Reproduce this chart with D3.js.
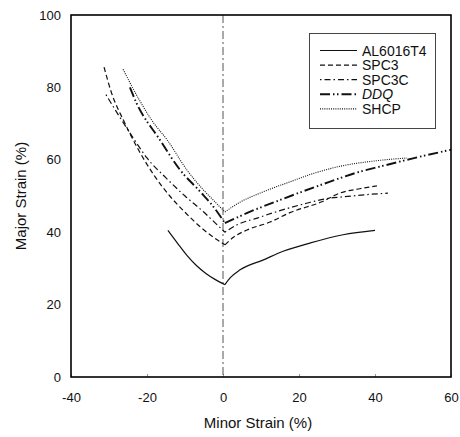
<!DOCTYPE html>
<html>
<head>
<meta charset="utf-8">
<script src="https://cdn.jsdelivr.net/npm/d3@7"></script>
<style>
  body { margin: 0; background: #fff; }
  text { font-family: "Liberation Sans", Arial, sans-serif; fill: #111; }
</style>
</head>
<body>
<svg id="mysvg" width="460" height="437"></svg>
<script>
// series names shown in the legend
var names = ["AL6016T4", "SPC3", "SPC3C", "DDQ", "SHCP"];

// each curve is split at the plane strain point (minor ~ 0) into a left and right branch
// [minor strain, major strain]
var al6016Left  = [[-14.5, 40.5], [-12, 37], [-9.5, 33.6], [-7, 30.8], [-4.5, 28.6], [-2, 26.9], [0.5, 25.5]];
var al6016Right = [[0.5, 25.5], [2, 27.5], [4.5, 29.6], [10.5, 32.3], [16, 34.8], [22.9, 37], [31.6, 39.3], [40, 40.5]];

var spc3Left  = [[-31.3, 85.6], [-29.5, 79], [-26, 70.5], [-22, 62.3], [-18, 55.5], [-14, 50], [-10, 45.5], [-5, 40.6], [0.5, 36.5]];
var spc3Right = [[0.5, 36.5], [3, 38.8], [6.3, 40.6], [12.4, 42.8], [17.6, 45.4], [26, 48.4], [31, 50.9], [36, 52], [40.5, 52.8]];

var spc3cLeft  = [[-30.8, 78], [-27, 71.5], [-23.6, 66], [-20, 60.5], [-15, 55], [-10, 50], [-5, 45.5], [-2, 42.5], [0.5, 40]];
var spc3cRight = [[0.5, 40], [4, 42.2], [9, 43.9], [13, 45.3], [22, 48], [28, 49.4], [32, 49.8], [38, 50.4], [43.4, 50.8]];

var ddqLeft  = [[-24.5, 80], [-22.9, 76], [-16.6, 65.5], [-11.3, 57.2], [-6, 51.2], [-2.5, 47], [0.5, 42.5]];
var ddqRight = [[0.5, 42.5], [4, 44.2], [7, 45.6], [15, 48.9], [28, 53.9], [35, 56.4], [42, 58.3], [50, 60.4], [60, 62.8]];

var shcpLeft  = [[-26.3, 85], [-22, 76.5], [-18.4, 70.4], [-14.7, 65.5], [-9.5, 57.2], [-5, 51.5], [-2.6, 48.9], [0.5, 45.6]];
var shcpRight = [[0.5, 45.6], [4.5, 48.3], [10, 50.9], [17.6, 53.9], [24, 56.3], [30.8, 58.2], [40, 59.7], [48.4, 60.5]];

var seriesData = [
  [al6016Left, al6016Right],
  [spc3Left, spc3Right],
  [spc3cLeft, spc3cRight],
  [ddqLeft, ddqRight],
  [shcpLeft, shcpRight]
];

var xTicks = [-40, -20, 0, 20, 40, 60];
var yTicks = [0, 20, 40, 60, 80, 100];

// line looks per series
var styles = [
  { dash: null, width: 1.2 },
  { dash: "5,3", width: 1.2 },
  { dash: "1.5,3,6,3", width: 1.2 },
  { dash: "10,3,1.5,2.5,1.5,3", width: 1.9 },
  { dash: "1,1.2", width: 1.1 }
];

var svg = d3.select("#mysvg");
var plotL = 71, plotR = 451, plotT = 15, plotB = 377;

var xScale = d3.scaleLinear().domain([-40, 60]).range([plotL, plotR]);
var yScale = d3.scaleLinear().domain([0, 100]).range([plotB, plotT]);
var fmt = function (d) { return String(d); }; // plain hyphen minus like the scan

// x axis
var xAxis = svg.append("g")
  .attr("transform", "translate(0," + plotB + ")")
  .call(d3.axisBottom(xScale).tickValues(xTicks).tickFormat(fmt).tickSizeInner(-3).tickSizeOuter(0).tickPadding(16));
xAxis.select(".domain").remove();
xAxis.selectAll("line").attr("stroke", "#999");
xAxis.selectAll("text").style("font-size", "13px").attr("fill", "#111");

// y axis
var yAxis = svg.append("g")
  .attr("transform", "translate(" + plotL + ",0)")
  .call(d3.axisLeft(yScale).tickValues(yTicks).tickFormat(fmt).tickSize(0).tickPadding(10));
yAxis.select(".domain").remove();
yAxis.selectAll("text").style("font-size", "13px").attr("fill", "#111");

// axis labels
svg.append("text")
  .attr("x", 258)
  .attr("y", 428)
  .style("text-anchor", "middle")
  .style("font-size", "15px")
  .text("Minor Strain (%)");

svg.append("text")
  .attr("transform", "rotate(-90)")
  .attr("x", -196)
  .attr("y", 26)
  .style("text-anchor", "middle")
  .style("font-size", "15px")
  .text("Major Strain (%)");

// plane strain reference line at minor = 0
svg.append("line")
  .attr("x1", xScale(0)).attr("x2", xScale(0))
  .attr("y1", yScale(100)).attr("y2", yScale(0))
  .attr("stroke", "#555")
  .attr("stroke-width", 1)
  .attr("stroke-dasharray", "8,3,2,3");

// curves
var line = d3.line()
  .x(function (d) { return xScale(d[0]); })
  .y(function (d) { return yScale(d[1]); })
  .curve(d3.curveMonotoneX);

seriesData.forEach(function (branches, i) {
  branches.forEach(function (b) {
    svg.append("path")
      .datum(b)
      .attr("d", line)
      .attr("fill", "none")
      .attr("stroke", "#111")
      .attr("stroke-width", styles[i].width)
      .attr("stroke-dasharray", styles[i].dash);
  });
});

// frame
svg.append("rect")
  .attr("x", plotL).attr("y", plotT)
  .attr("width", plotR - plotL).attr("height", plotB - plotT)
  .attr("fill", "none")
  .attr("stroke", "#000")
  .attr("stroke-width", 1.6);

// legend
var legend = svg.append("g");
legend.append("rect")
  .attr("x", 309.5).attr("y", 33.5)
  .attr("width", 126).attr("height", 95)
  .attr("fill", "#fff")
  .attr("stroke", "#444")
  .attr("stroke-width", 1);

names.forEach(function (n, i) {
  var yy = 50.5 + i * 14.6;
  legend.append("line")
    .attr("x1", 320).attr("x2", 357)
    .attr("y1", yy).attr("y2", yy)
    .attr("stroke", "#111")
    .attr("stroke-width", styles[i].width)
    .attr("stroke-dasharray", styles[i].dash);
  legend.append("text")
    .attr("x", 362)
    .attr("y", yy + 5)
    .style("font-size", "14px")
    .style("font-style", n == "DDQ" ? "italic" : "normal")
    .text(n);
});
</script>
</body>
</html>
